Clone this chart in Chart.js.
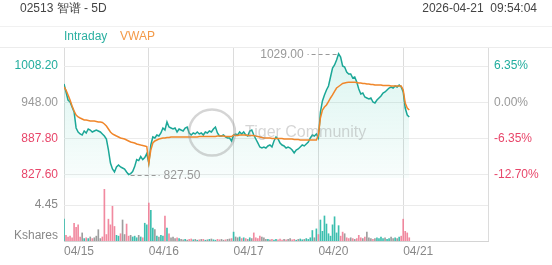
<!DOCTYPE html>
<html>
<head>
<meta charset="utf-8">
<script src="https://cdn.jsdelivr.net/npm/chart.js@4.4.1/dist/chart.umd.min.js"></script>
<style>
  html, body { margin:0; padding:0; background:#fff; }
  body { width:552px; height:265px; position:relative; overflow:hidden; font-family:"Liberation Sans", Arial, sans-serif; }
  #wrap { position:absolute; left:0; top:0; width:552px; height:265px; }
  .head { position:absolute; top:1px; font-size:12px; color:#444; line-height:14px; white-space:pre; }
  .legend { position:absolute; left:0; top:26px; width:552px; height:20px; border-top:1px solid #f1f1f1; border-bottom:1px solid #ececec; font-size:12px; line-height:19px; }
  .legend span { position:absolute; top:0; }
</style>
</head>
<body>
<div id="wrap"><canvas id="chart" width="552" height="265"></canvas></div>
<div class="head" style="left:20px">02513 智谱 - 5D</div>
<div class="head" style="right:15px">2026-04-21  09:54:04</div>
<div class="legend"><span style="left:64px;color:#2bb0a1">Intraday</span><span style="left:120px;color:#f39a48">VWAP</span></div>
<script>
const days = ['04/15', '04/16', '04/17', '04/20', '04/21'];
const PER_DAY = 42;
const prevClose = 948.00;
const priceTicks = [827.60, 887.80, 948.00, 1008.20];
const pctTicks = [-12.70, -6.35, 0.00, 6.35];
const volTick = 4.45;

const price0415 = [978.5, 965.2, 951.8, 948.5, 940.2, 931.8, 905.2, 898.5, 895.2, 893.5, 900.2, 896.8, 903.5, 901.8, 898.5, 900.2, 901.8, 900.2, 898.5, 895.2, 891.8, 886.8, 868.5, 846.8, 836.8, 831.8, 840.2, 843.5, 840.2, 838.5, 836.8, 831.8, 827.5, 829.2, 832.5, 840.8, 852.5, 850.8, 857.5, 852.5, 855.8, 862.5];
const price0416 = [846.8, 876.8, 890.2, 888.5, 893.5, 891.8, 896.8, 905.2, 901.8, 915.2, 906.8, 905.2, 903.5, 905.2, 898.5, 903.5, 901.8, 900.2, 905.2, 906.8, 896.8, 893.5, 896.8, 895.2, 898.5, 895.2, 896.8, 893.5, 898.5, 896.8, 900.2, 898.5, 903.5, 906.8, 896.8, 891.8, 891.8, 893.5, 890.2, 888.5, 888.5, 883.5];
const price0417 = [893.5, 895.2, 893.5, 898.5, 895.2, 898.5, 893.5, 891.8, 900.2, 901.8, 893.5, 886.8, 880.2, 873.5, 871.8, 873.5, 871.8, 875.2, 876.8, 873.5, 883.5, 890.2, 886.8, 880.2, 876.8, 875.2, 871.8, 873.5, 871.8, 868.5, 863.5, 868.5, 870.2, 873.5, 876.8, 875.2, 878.5, 881.8, 888.5, 893.5, 891.8, 895.2];
const price0420 = [888.5, 931.8, 950.2, 960.2, 968.5, 975.2, 990.2, 1005.2, 1010.2, 1018.5, 1029.0, 1023.5, 1008.5, 1006.8, 998.5, 995.2, 995.2, 988.5, 990.2, 981.8, 970.2, 961.8, 963.5, 956.8, 955.2, 953.5, 955.2, 948.5, 946.8, 951.8, 955.2, 958.5, 963.5, 965.2, 968.5, 971.8, 973.5, 971.8, 975.2, 973.5, 976.8, 973.5];
const price0421 = [965.2, 938.5, 926.8, 923.5];

const vwap0415 = [973.5, 968.5, 960.2, 951.8, 941.8, 933.5, 926.8, 923.5, 921.8, 920.2, 918.5, 918.5, 917.7, 916.8, 916.8, 916.8, 916.0, 915.2, 915.2, 914.3, 911.8, 908.5, 903.5, 898.5, 895.2, 893.5, 891.8, 890.2, 888.5, 887.7, 886.8, 885.2, 883.5, 881.8, 881.0, 880.2, 878.5, 877.7, 876.8, 876.0, 875.2, 874.3];
const vwap0416 = [846.8, 868.5, 880.2, 883.5, 885.2, 886.8, 887.7, 888.5, 888.5, 889.3, 889.3, 890.2, 890.2, 890.2, 890.2, 890.2, 890.2, 890.2, 890.2, 890.2, 890.2, 890.2, 890.2, 890.2, 890.2, 891.0, 891.0, 891.0, 891.0, 891.0, 891.0, 891.0, 891.0, 891.0, 891.8, 891.8, 891.8, 891.8, 891.0, 891.0, 891.0, 891.0];
const vwap0417 = [893.5, 892.7, 892.7, 893.5, 893.5, 893.5, 893.5, 892.7, 892.7, 892.7, 892.7, 891.8, 891.0, 890.2, 889.3, 888.5, 888.5, 888.5, 888.5, 887.7, 887.7, 887.7, 887.7, 887.7, 887.7, 886.8, 886.8, 886.8, 886.8, 886.8, 886.0, 886.0, 886.0, 885.2, 885.2, 885.2, 885.2, 885.2, 885.2, 885.2, 885.2, 885.2];
const vwap0420 = [893.5, 921.8, 935.2, 940.2, 943.5, 949.3, 955.2, 960.2, 966.0, 971.8, 974.3, 976.8, 979.3, 980.2, 981.0, 981.5, 981.5, 981.5, 981.5, 981.0, 980.2, 980.2, 979.3, 979.3, 978.5, 978.5, 977.7, 977.7, 976.8, 976.8, 976.8, 976.8, 976.0, 976.0, 976.0, 976.0, 975.2, 975.2, 975.2, 975.2, 975.2, 975.2];
const vwap0421 = [968.5, 946.8, 938.5, 935.2];

const vol0415 = [2.7, 0.7, 0.5, 0.6, 0.4, 2.2, 1.7, 2.0, 0.5, 1.0, 0.3, 0.4, 0.3, 0.5, 0.3, 0.4, 0.6, 1.4, 0.3, 0.5, 6.4, 0.8, 2.7, 2.0, 4.3, 1.8, 0.7, 0.6, 0.9, 2.6, 0.8, 2.1, 0.6, 0.7, 0.5, 0.6, 0.4, 0.7, 0.5, 0.4, 2.2, 2.0];
const vol0416 = [4.7, 3.8, 1.6, 1.4, 0.6, 0.5, 0.7, 0.6, 3.1, 1.6, 0.9, 0.4, 0.5, 0.3, 0.4, 0.3, 0.2, 0.15, 0.2, 0.1, 0.2, 0.25, 0.15, 0.2, 0.1, 0.15, 0.2, 0.2, 0.1, 0.15, 0.2, 0.25, 0.15, 0.1, 0.2, 0.15, 0.2, 0.1, 0.15, 0.2, 0.25, 0.3];
const vol0417 = [1.1, 0.5, 0.4, 0.5, 0.3, 0.4, 0.3, 0.2, 0.4, 0.3, 1.0, 0.4, 0.3, 0.6, 0.5, 0.4, 0.2, 0.2, 0.15, 0.2, 0.1, 0.2, 0.15, 0.25, 0.1, 0.2, 0.15, 0.2, 0.3, 0.15, 0.2, 0.1, 0.2, 0.25, 0.15, 0.2, 0.3, 0.2, 0.4, 1.3, 0.4, 1.5];
const vol0420 = [0.8, 2.6, 1.2, 3.1, 2.1, 0.9, 0.6, 2.0, 3.0, 1.0, 1.9, 0.6, 1.1, 0.9, 0.4, 0.3, 0.4, 0.3, 0.2, 0.3, 0.7, 0.4, 0.3, 0.5, 1.1, 0.4, 0.3, 0.2, 0.3, 0.4, 0.3, 0.5, 0.3, 0.4, 0.2, 0.3, 0.5, 0.3, 0.4, 0.3, 0.5, 0.6];
const vol0421 = [2.7, 1.2, 1.0, 0.4];

const price = [].concat(price0415, price0416, price0417, price0420, price0421);
const vwap = [].concat(vwap0415, vwap0416, vwap0417, vwap0420, vwap0421);
const vol = [].concat(vol0415, vol0416, vol0417, vol0420, vol0421);

// visible ranges of the two panes
const priceTop = 1038.5, priceBottom = 821.8;
const volTop = 7.8, kLabelAt = 0.6;
const PRICE_W = 130, VOL_W = 63;
const pctMax = (priceTop / prevClose - 1) * 100;
const pctMin = pctMax - (priceTop - priceBottom) / prevClose * 100 * (PRICE_W + VOL_W) / PRICE_W;

const TEAL = '#1ba797', ORANGE = '#f0862a', RED = '#e8466a', GREY = '#999';
const FONT = '"Liberation Sans", Arial, sans-serif';
Chart.defaults.font.family = FONT;
Chart.defaults.font.size = 12;

function signColor(v) { return v > 0.001 ? '#22ad9e' : v < -0.001 ? RED : GREY; }

const barColors = vol.map((v, i) => {
  const d = price[i] - (i ? price[i - 1] : prevClose);
  return d > 2 ? 'rgba(40,184,166,0.9)' : d < -2 ? 'rgba(240,125,150,0.9)' : 'rgba(140,140,140,0.85)';
});

const extremes = {
  id: 'extremes',
  afterDatasetsDraw(chart) {
    const { ctx, chartArea } = chart;
    const x = chart.scales.x, y = chart.scales.y;
    let hi = 0, lo = 0;
    price.forEach((v, i) => { if (v > price[hi]) hi = i; if (v < price[lo]) lo = i; });
    ctx.save();
    ctx.font = '12px ' + FONT;
    ctx.fillStyle = '#999'; ctx.strokeStyle = '#999'; ctx.lineWidth = 1;
    ctx.setLineDash([4, 3]);
    ctx.textBaseline = 'middle';
    [hi, lo].forEach(i => {
      const px = x.getPixelForValue(i);
      const py = Math.round(y.getPixelForValue(price[i])) + 0.5;
      const dir = px < (chartArea.left + chartArea.right) / 2 ? 1 : -1;
      ctx.beginPath(); ctx.moveTo(px + dir * 2, py); ctx.lineTo(px + dir * 31, py); ctx.stroke();
      ctx.textAlign = dir > 0 ? 'left' : 'right';
      ctx.fillText(price[i].toFixed(2), px + dir * 35, py);
    });
    ctx.restore();
  }
};

const watermark = {
  id: 'watermark',
  afterDatasetsDraw(chart) {
    const { ctx, chartArea: a } = chart;
    const cx = (a.left + a.right) / 2, cy = (a.top + a.bottom) / 2 - 12;
    ctx.save();
    ctx.strokeStyle = 'rgba(150,150,150,0.4)';
    ctx.lineWidth = 2.5;
    ctx.beginPath(); ctx.arc(cx - 64, cy, 23, 0, Math.PI * 2); ctx.stroke();
    ctx.fillStyle = 'rgba(150,150,150,0.4)';
    ctx.font = '16px ' + FONT;
    ctx.textBaseline = 'middle';
    ctx.fillText('Tiger Community', cx - 31, cy);
    ctx.restore();
  }
};

const el = document.getElementById('chart');
new Chart(el, {
  type: 'line',
  data: {
    datasets: [{
      type: 'line',
      label: 'VWAP',
      data: vwap.map((v, i) => ({ x: i, y: v })),
      yAxisID: 'y',
      borderColor: ORANGE,
      borderWidth: 1.5,
      pointRadius: 0,
      fill: false,
      order: 0
    }, {
      type: 'line',
      label: 'Intraday',
      data: price.map((v, i) => ({ x: i, y: v })),
      yAxisID: 'y',
      borderColor: TEAL,
      borderWidth: 1.5,
      pointRadius: 0,
      fill: 'start',
      backgroundColor: (c) => {
        const s = c.chart.scales.y;
        if (!c.chart.chartArea || !s || !isFinite(s.top) || !isFinite(s.bottom) || s.bottom <= s.top) return 'rgba(27,190,160,0.08)';
        const g = c.chart.ctx.createLinearGradient(0, s.top, 0, s.bottom);
        g.addColorStop(0, 'rgba(27,190,160,0.16)');
        g.addColorStop(1, 'rgba(27,190,160,0.03)');
        return g;
      },
      order: 1
    }, {
      type: 'bar',
      label: 'Volume',
      data: vol.map((v, i) => ({ x: i, y: v })),
      yAxisID: 'yv',
      backgroundColor: barColors,
      barThickness: 1,
      order: 2
    }]
  },
  options: {
    responsive: false,
    animation: false,
    devicePixelRatio: 1,
    layout: { padding: { top: 48, left: 0, right: 0, bottom: 0 } },
    plugins: { legend: { display: false }, tooltip: { enabled: false } },
    events: [],
    scales: {
      x: {
        type: 'linear', min: 0, max: days.length * PER_DAY, offset: false,
        afterBuildTicks: s => { s.ticks = days.map((d, i) => ({ value: i * PER_DAY })).concat([{ value: days.length * PER_DAY }]); },
        ticks: { autoSkip: false, align: 'start', padding: 3, maxRotation: 0, color: '#888', callback: v => days[v / PER_DAY] || '' },
        grid: { color: '#dcdcdc', drawTicks: false, offset: false },
        border: { color: '#d4d4d4' },
        afterFit: s => { s.height = 24; }
      },
      yv: {
        type: 'linear', position: 'left', stack: 'left', stackWeight: VOL_W,
        min: 0, max: volTop,
        afterBuildTicks: s => { s.ticks = [{ value: kLabelAt }, { value: volTick }]; },
        ticks: { padding: 6, color: '#888', callback: v => v === volTick ? volTick.toFixed(2) : 'Kshares' },
        grid: { color: c => (c.tick && c.tick.value === volTick) ? '#ebebeb' : 'rgba(0,0,0,0)', drawTicks: false },
        border: { display: false },
        afterFit: s => { s.width = 64; }
      },
      y: {
        type: 'linear', position: 'left', stack: 'left', stackWeight: PRICE_W,
        min: priceBottom, max: priceTop,
        afterBuildTicks: s => { s.ticks = priceTicks.map(v => ({ value: v })); },
        ticks: { padding: 6, color: c => signColor(c.tick.value - prevClose), callback: v => v.toFixed(2) },
        grid: { color: '#ebebeb', drawTicks: false },
        border: { display: false },
        afterFit: s => { s.width = 64; }
      },
      yr: {
        type: 'linear', position: 'right', min: pctMin, max: pctMax,
        afterBuildTicks: s => { s.ticks = pctTicks.map(v => ({ value: v })); },
        ticks: { padding: 6, color: c => signColor(c.tick.value), callback: v => v.toFixed(2) + '%' },
        grid: { display: false, drawTicks: false },
        border: { display: false },
        afterFit: s => { s.width = 64; }
      }
    }
  },
  plugins: [watermark, extremes]
});
</script>
</body>
</html>
